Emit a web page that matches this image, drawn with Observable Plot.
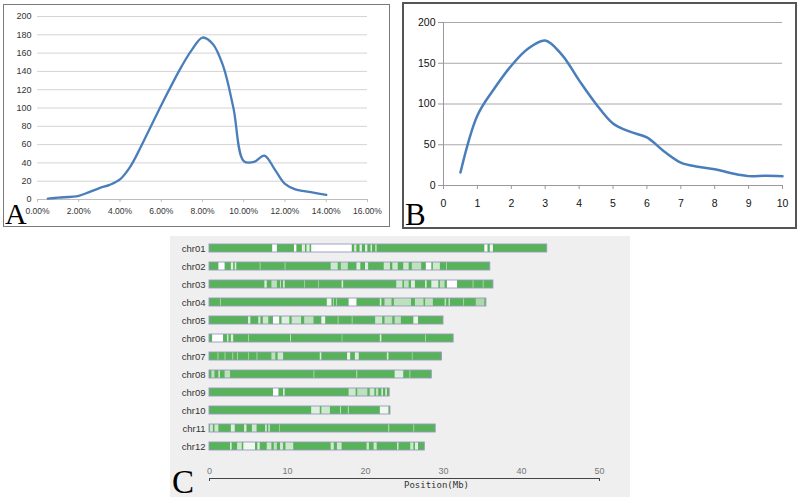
<!DOCTYPE html>
<html>
<head>
<meta charset="utf-8">
<script src="https://cdn.jsdelivr.net/npm/d3@7"></script>
<script src="https://cdn.jsdelivr.net/npm/@observablehq/plot@0.6"></script>
<style>
  body { margin:0; background:#fff; width:800px; height:499px; position:relative; overflow:hidden; }
  .panel { position:absolute; box-sizing:border-box; }
  .panel svg { display:block; }
  .letter { position:absolute; font-family:"Liberation Serif","DejaVu Serif",serif; color:#000; line-height:1; }
</style>
</head>
<body>
<div id="A" class="panel" style="left:3px;top:4px;width:387px;height:223px;border:1px solid #7a7a7a;"></div>
<div id="B" class="panel" style="left:402px;top:2px;width:395px;height:227px;border:2px solid #555;"></div>
<div id="C" class="panel" style="left:170px;top:236px;width:460px;height:261px;background:#efefef;"></div>
<div class="letter" style="left:5px;top:199px;font-size:30px;">A</div>
<div class="letter" style="left:405px;top:199px;font-size:31px;">B</div>
<div class="letter" style="left:172px;top:466px;font-size:33px;">C</div>
<script>
// ---------- Panel A data ----------
const aX = [0.005,0.01,0.02,0.025,0.03,0.035,0.04,0.045,0.05,0.055,0.06,0.065,0.07,0.075,0.08,0.085,0.09,0.095,0.10,0.105,0.11,0.115,0.12,0.125,0.13,0.135,0.14];
const aY = [1,2,4,8,12.5,16,22,36,57,80,103,125,146,164,177,170,146,100,42,41,48,33,17,11,9,7,5];
const aXTicks = [0,0.02,0.04,0.06,0.08,0.10,0.12,0.14,0.16];
const aYTicks = [0,20,40,60,80,100,120,140,160,180,200];

// ---------- Panel B data ----------
const bX = [0.5,1,1.5,2,2.5,3,3.5,4,4.5,5,5.5,6,6.5,7,7.5,8,8.5,9,9.5,10];
const bY = [16,86,119,147,168,178,160,129,100,76,66,59,42,28,23,20,15,11.5,12,11.5];
const bXTicks = [0,1,2,3,4,5,6,7,8,9,10];
const bYTicks = [0,50,100,150,200];

// ---------- Panel C data ----------
const chromosomes = ["chr01","chr02","chr03","chr04","chr05","chr06","chr07","chr08","chr09","chr10","chr11","chr12"];
const lengths = [43.3,36.0,36.4,35.5,30.0,31.3,29.8,28.5,23.1,23.2,29.0,27.6];
// low-density (white) segments per chromosome: [start Mb, end Mb, whiteness]
const chrGaps = [
  [[8.1,8.7,1],[10.9,11.2,1],[11.9,12.3,0.8],[12.5,12.9,0.8],[13.1,18.3,1],[18.6,18.9,0.7],[19.3,19.6,0.8],[20.0,20.3,0.8],[20.7,20.9,0.7],[21.3,21.5,0.6],[35.3,35.7,1],[36.0,36.4,0.9]],
  [[1.2,2.0,1],[2.8,3.1,0.8],[3.3,3.5,0.8],[6.5,6.6,0.6],[9.7,9.8,0.6],[15.6,16.5,0.7],[16.9,17.8,0.6],[18.9,19.4,0.8],[20.0,20.4,0.8],[22.4,23.2,0.7],[23.5,24.2,0.7],[24.9,25.6,0.7],[26.0,27.2,0.6],[27.8,28.5,1],[28.7,29.6,0.7],[30.4,30.5,0.6]],
  [[7.1,7.4,0.8],[8.0,8.7,0.6],[9.1,9.2,0.8],[9.5,9.7,0.8],[12.2,12.3,0.5],[14.0,14.1,0.5],[17.0,17.2,0.8],[24.0,24.8,0.7],[25.0,25.6,0.6],[25.9,26.4,0.8],[27.7,27.9,0.8],[28.5,29.4,0.8],[29.6,30.2,0.6],[30.5,31.8,1],[33.8,33.9,0.6],[35.1,35.2,0.6]],
  [[1.4,1.5,0.6],[15.1,15.7,0.9],[15.9,16.0,0.6],[16.3,16.4,0.6],[17.9,18.9,1],[21.9,22.1,0.8],[22.5,23.4,0.6],[23.7,25.9,0.6],[26.4,27.5,0.6],[27.7,28.7,0.6],[30.2,30.4,0.6],[30.7,30.9,0.6],[32.6,32.7,0.6],[34.2,35.3,0.5]],
  [[5.0,5.3,0.8],[6.3,6.6,0.7],[6.9,7.6,0.7],[8.2,9.0,1],[9.3,10.3,0.8],[10.6,11.8,0.7],[12.2,13.4,0.6],[14.4,14.9,0.9],[16.5,16.6,0.6],[18.3,18.4,0.6],[21.3,22.2,0.7],[22.5,23.5,0.6],[23.8,24.6,0.6],[26.2,26.8,0.9]],
  [[0.4,1.8,1],[2.3,2.5,0.7],[2.8,3.1,0.8],[5.0,5.1,0.6],[10.4,10.5,0.8],[17.0,17.1,0.5],[21.9,22.1,0.8],[27.7,27.8,0.6]],
  [[1.1,1.2,0.6],[2.0,2.1,0.6],[3.0,3.1,0.6],[3.6,3.7,0.6],[5.0,5.1,0.5],[6.1,6.2,0.6],[8.0,8.5,0.6],[8.8,9.5,0.7],[14.2,14.4,0.8],[17.7,18.1,0.9],[18.7,19.2,0.8],[22.8,23.0,0.8],[26.0,26.1,0.5]],
  [[0.3,0.7,0.6],[1.2,1.4,0.7],[2.0,2.7,0.6],[13.4,13.5,0.6],[18.9,19.0,0.8],[23.8,24.9,0.8],[25.7,25.8,0.6]],
  [[8.2,8.9,1],[9.5,9.7,0.8],[17.9,18.8,0.7],[19.0,20.3,0.6],[20.6,21.2,0.7],[21.4,21.7,0.6],[22.1,22.3,0.8],[22.6,22.8,0.8]],
  [[13.1,14.2,0.8],[14.4,15.5,0.7],[16.8,16.9,0.8],[17.8,17.9,0.8],[21.9,23.0,0.9]],
  [[0.1,0.5,0.7],[0.7,1.2,0.7],[2.8,3.3,0.8],[4.5,4.8,0.8],[5.5,6.1,0.7],[7.2,7.4,0.8],[7.6,7.8,0.7],[9.0,9.1,0.5],[23.0,23.1,0.8],[26.2,26.3,0.6]],
  [[2.7,2.9,0.8],[3.6,4.2,0.7],[4.4,5.9,0.9],[6.2,6.5,0.8],[7.4,8.0,0.7],[8.3,8.7,0.6],[9.1,9.5,0.7],[9.8,10.8,0.7],[15.6,16.0,0.7],[16.4,17.0,0.7],[20.2,20.5,0.7],[21.1,21.5,0.7],[24.1,24.3,0.7],[25.8,26.2,0.7],[26.4,26.8,0.8]]
];
const cTicks = [0,10,20,30,40,50];
const cAxisTitle = "Position(Mb)";

// ---------- Panel A ----------
const aData = aX.map((x,i) => ({x, y: aY[i]}));
const chartA = Plot.plot({
  width: 385, height: 221,
  marginLeft: 33, marginRight: 22, marginTop: 11, marginBottom: 27,
  style: {fontFamily: "'Liberation Sans', Arial, sans-serif", fontSize: "9px", color: "#333", background: "transparent"},
  x: {domain: [0, 0.16]},
  y: {domain: [0, 200]},
  marks: [
    Plot.gridY({ticks: aYTicks, stroke: "#d4d4d4", strokeOpacity: 1}),
    Plot.ruleY([0], {stroke: "#bdbdbd"}),
    Plot.axisY({ticks: aYTicks, tickSize: 0, tickPadding: 6, label: null}),
    Plot.axisX({ticks: aXTicks, tickFormat: d3.format(".2%"), tickSize: 3, tickPadding: 5, label: null, stroke: "#bdbdbd", fontSize: "8.5px"}),
    Plot.line(aData, {x: "x", y: "y", curve: "catmull-rom", stroke: "#4a7ebb", strokeWidth: 2.3})
  ]
});
document.getElementById("A").appendChild(chartA);

// ---------- Panel B ----------
const bData = bX.map((x,i) => ({x, y: bY[i]}));
const chartB = Plot.plot({
  width: 391, height: 223,
  marginLeft: 39, marginRight: 13, marginTop: 18, marginBottom: 42,
  style: {fontFamily: "'Liberation Sans Narrow', 'Liberation Sans', Arial, sans-serif", fontSize: "10.5px", color: "#111", background: "transparent"},
  x: {domain: [0, 10]},
  y: {domain: [0, 200]},
  marks: [
    Plot.gridY({ticks: bYTicks, stroke: "#a8a8a8", strokeOpacity: 1}),
    Plot.ruleY([0], {stroke: "#999"}),
    Plot.ruleX([0], {stroke: "#999"}),
    Plot.axisY({ticks: bYTicks, tickSize: 5, tickPadding: 3, label: null, stroke: "#999"}),
    Plot.axisX({ticks: bXTicks, tickSize: 4, tickPadding: 10, label: null, stroke: "#999"}),
    Plot.line(bData, {x: "x", y: "y", curve: "catmull-rom", stroke: "#4a7ebb", strokeWidth: 2.5})
  ]
});
document.getElementById("B").appendChild(chartB);

// ---------- Panel C ----------
const chrRows = chromosomes.map((c,i) => ({chr: c, len: lengths[i]}));
const gapRows = chromosomes.flatMap((c,i) => chrGaps[i].map(([s,e,l]) => ({chr: c, s, e, l})));
const chartC = Plot.plot({
  width: 460, height: 261,
  marginLeft: 39, marginRight: 31, marginTop: 5, marginBottom: 19,
  style: {fontFamily: "'Liberation Sans', Arial, sans-serif", fontSize: "9.5px", color: "#333", background: "transparent"},
  x: {domain: [0, 50]},
  y: {type: "band", domain: chromosomes, range: [5.1, 216.9], paddingInner: 0.58, paddingOuter: 0},
  opacity: {domain: [0, 1], range: [0, 1]},
  marks: [
    Plot.barX(chrRows, {x1: d => 0, x2: "len", y: "chr", fill: "#57b357"}),
    Plot.barX(gapRows, {x1: "s", x2: "e", y: "chr", fill: "#ffffff", fillOpacity: "l"}),
    Plot.barX(chrRows, {x1: d => 0, x2: "len", y: "chr", fill: "none", stroke: "#9a98c4", strokeWidth: 0.9}),
    Plot.axisY({tickSize: 0, tickPadding: 4, label: null}),
    Plot.frame({anchor: "bottom", stroke: "#444"}),
    Plot.axisX({ticks: [0, 50], tickSize: 3, tickFormat: () => "", label: null, stroke: "#444"}),
    Plot.axisX({ticks: cTicks, tickSize: 0, tickPadding: -11, label: null, fontSize: "9px", fill: "#777"}),
    Plot.text([cAxisTitle], {frameAnchor: "bottom", dx: 32, dy: 9, fontSize: 9, fontFamily: "'DejaVu Sans Mono', monospace", fill: "#333"})
  ]
});
document.getElementById("C").appendChild(chartC);
</script>
</body>
</html>
